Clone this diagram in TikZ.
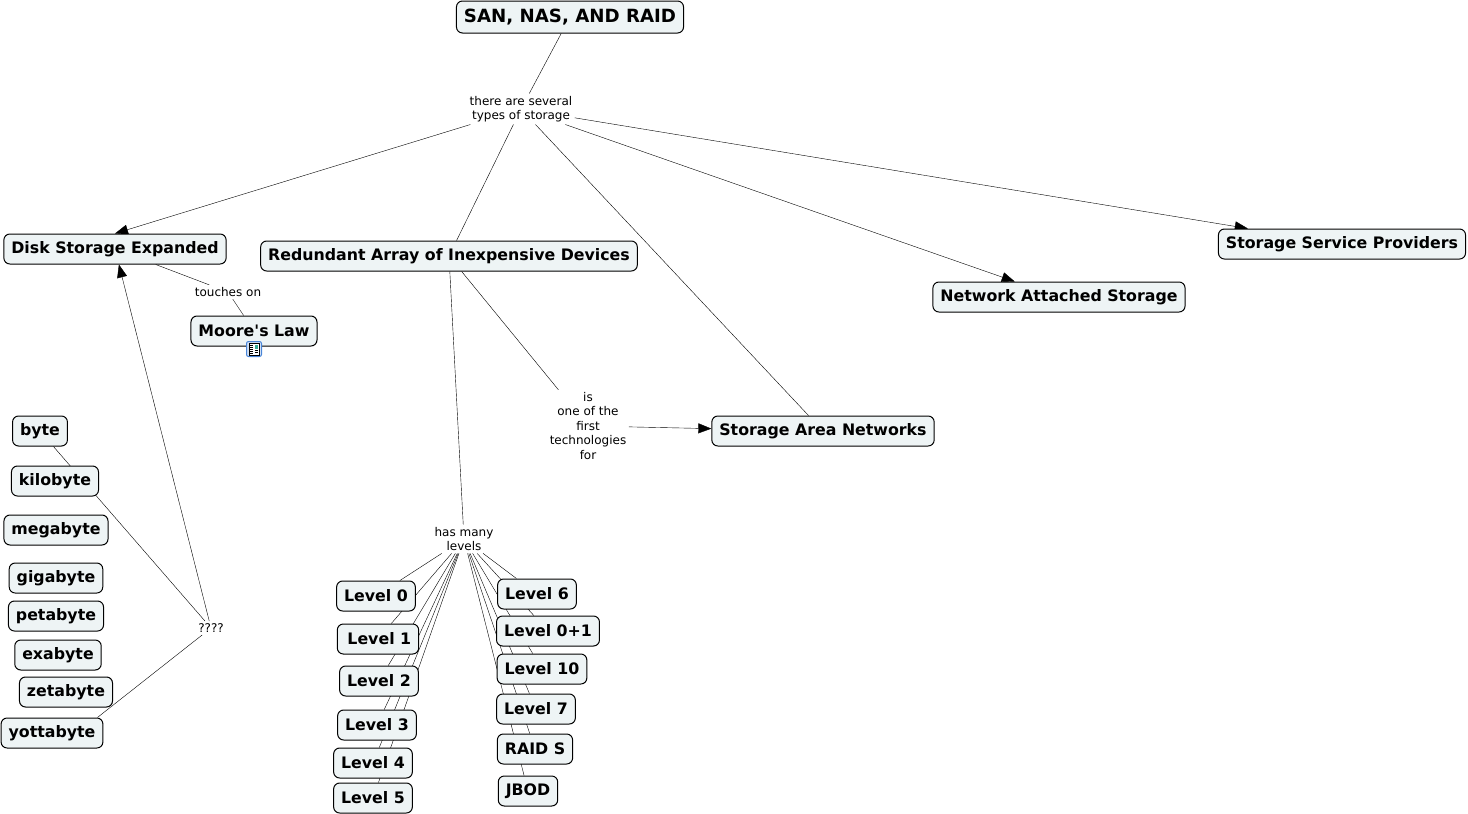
\documentclass[tikz,border=0pt]{standalone}
\usepackage{fontspec}
\setmainfont{DejaVu Sans}
\usetikzlibrary{arrows.meta,positioning}
\pgfdeclarelayer{background}
\pgfsetlayers{background,main}
\definecolor{conceptfill}{HTML}{EEF4F5}
\definecolor{iconblue}{HTML}{4A86D8}

\begin{document}
\begin{tikzpicture}[x=1pt,y=-1pt,>={Triangle[length=13pt,width=10pt]},line width=1pt]
	\tikzset{concept/.style={draw,rounded corners=6pt,fill=conceptfill,inner xsep=7.5pt,minimum height=30pt,font=\fontsize{15.8}{18}\selectfont\bfseries}}
	\tikzset{maintopic/.style={concept,minimum height=32pt,font=\fontsize{18.2}{20}\selectfont\bfseries}}
	\tikzset{linkword/.style={fill=white,inner sep=2pt,align=center,font=\fontsize{12}{14.5}\selectfont}}
	\tikzset{link/.style={-}}
	\useasboundingbox (0,0) rectangle (1468,814);
	\node[maintopic] (san) at (570,17) {SAN, NAS, AND RAID};
	\node[linkword] (types) at (521,109) {there are several\\types of storage};
	\node[concept] (dse) at (115,249) {Disk Storage Expanded};
	\node[concept] (raid) at (449,256) {Redundant Array of Inexpensive Devices};
	\node[concept] (ssp) at (1342,244) {Storage Service Providers};
	\node[concept] (nas) at (1059,297) {Network Attached Storage};
	\node[concept] (sann) at (823,431) {Storage Area Networks};
	\node[linkword] (touches) at (228,292) {touches on};
	\node[concept] (moore) at (254,331) {Moore\textquotesingle s Law};
	\node[linkword] (first) at (588,426) {is\\one of the\\first\\technologies\\for};
	\node[linkword] (levels) at (464,539) {has many\\levels};
	\node[concept] (l0) at (376,596) {Level 0};
	\node[concept] (l1) at (378,639) {\,Level 1};
	\node[concept] (l2) at (379,681) {Level 2};
	\node[concept] (l3) at (377,725) {Level 3};
	\node[concept] (l4) at (373,763) {Level 4};
	\node[concept] (l5) at (373,798) {Level 5};
	\node[concept] (l6) at (537,594) {Level 6};
	\node[concept] (l01) at (548,631) {Level 0+1};
	\node[concept] (l10) at (542,669) {Level 10};
	\node[concept] (l7) at (536,709) {Level 7};
	\node[concept] (raids) at (535,749) {RAID S};
	\node[concept] (jbod) at (528,791) {JBOD};
	\node[concept] (byte) at (40,431) {byte};
	\node[concept] (kilo) at (55,481) {kilobyte};
	\node[concept] (mega) at (56,530) {megabyte};
	\node[concept] (giga) at (56,578) {gigabyte};
	\node[concept] (peta) at (56,616) {petabyte};
	\node[concept] (exa) at (58,655) {exabyte};
	\node[concept] (zeta) at (66,692) {zetabyte};
	\node[concept] (yotta) at (52,733) {yottabyte};
	\node[linkword] (q) at (211,628) {????};
	% document icon under Moore's Law
	\node[draw=iconblue,fill=iconblue!25,rounded corners=2pt,minimum size=15pt,inner sep=0pt,line width=1pt] (icon) at (254,349) {};
	\fill[white,draw=black,line width=0.6pt] (249,343) rectangle (259,355);
	\fill[iconblue!70!green] (254.5,344.5) rectangle (258,348.5);
	\foreach \y in {345,347,349,351,353} \draw[line width=0.6pt] (250,\y) -- (253,\y);
	\foreach \y in {350.5,352.5} \draw[line width=0.6pt] (254.5,\y) -- (258,\y);
	\begin{pgfonlayer}{background}
	\path
	(san)     edge [link]   (types)
	(types)   edge [->]     (dse.north)
	(types)   edge [link]   (raid)
	(types)   edge [link]   (sann)
	(types)   edge [->]     (nas)
	(types)   edge [->]     (ssp)
	(dse)     edge [link]   (touches)
	(touches) edge [link]   (moore)
	(raid)    edge [link]   (first)
	(first)   edge [->]     (sann)
	(raid)    edge [link]   (levels)
	(byte)    edge [link]   (q)
	([xshift=-6pt]yotta.north east) edge [link] (q)
	(q)       edge [->]     (dse);
	\foreach \lv in {l0,l1,l2,l3,l4,l5,l6,l01,l10,l7,raids,jbod}
		\draw (levels) -- (\lv);
	\end{pgfonlayer}
\end{tikzpicture}
\end{document}
